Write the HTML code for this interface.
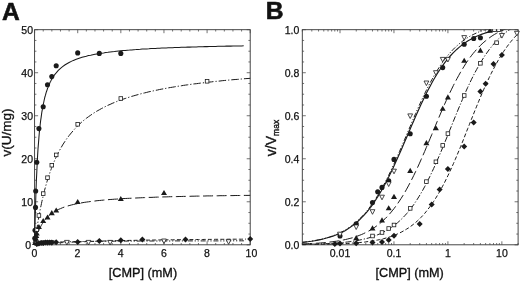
<!DOCTYPE html>
<html><head><meta charset="utf-8"><title>Figure</title>
<style>html,body{margin:0;padding:0;background:#fff}svg{display:block}</style></head>
<body>
<svg width="520" height="281" viewBox="0 0 520 281">
<rect width="520" height="281" fill="#fff"/>
<defs><clipPath id="cb"><rect x="302.3" y="29.7" width="215.8" height="215.10000000000002"/></clipPath><clipPath id="cm"><rect x="292.3" y="29.3" width="235.8" height="225.10000000000002"/></clipPath></defs>
<g>
<rect x="34.6" y="29.7" width="215.6" height="215.10000000000002" fill="none" stroke="#333" stroke-width="0.9"/>
<path d="M34.60 244.8v-3.5M34.60 29.7v3.5M43.22 244.8v-1.8M43.22 29.7v1.8M51.85 244.8v-1.8M51.85 29.7v1.8M60.47 244.8v-1.8M60.47 29.7v1.8M69.10 244.8v-1.8M69.10 29.7v1.8M77.72 244.8v-3.5M77.72 29.7v3.5M86.34 244.8v-1.8M86.34 29.7v1.8M94.97 244.8v-1.8M94.97 29.7v1.8M103.59 244.8v-1.8M103.59 29.7v1.8M112.22 244.8v-1.8M112.22 29.7v1.8M120.84 244.8v-3.5M120.84 29.7v3.5M129.46 244.8v-1.8M129.46 29.7v1.8M138.09 244.8v-1.8M138.09 29.7v1.8M146.71 244.8v-1.8M146.71 29.7v1.8M155.34 244.8v-1.8M155.34 29.7v1.8M163.96 244.8v-3.5M163.96 29.7v3.5M172.58 244.8v-1.8M172.58 29.7v1.8M181.21 244.8v-1.8M181.21 29.7v1.8M189.83 244.8v-1.8M189.83 29.7v1.8M198.46 244.8v-1.8M198.46 29.7v1.8M207.08 244.8v-3.5M207.08 29.7v3.5M215.70 244.8v-1.8M215.70 29.7v1.8M224.33 244.8v-1.8M224.33 29.7v1.8M232.95 244.8v-1.8M232.95 29.7v1.8M241.58 244.8v-1.8M241.58 29.7v1.8M250.20 244.8v-3.5M250.20 29.7v3.5M34.6 244.80h3.5M250.2 244.80h-3.5M34.6 234.05h1.8M250.2 234.05h-1.8M34.6 223.29h1.8M250.2 223.29h-1.8M34.6 212.53h1.8M250.2 212.53h-1.8M34.6 201.78h3.5M250.2 201.78h-3.5M34.6 191.03h1.8M250.2 191.03h-1.8M34.6 180.27h1.8M250.2 180.27h-1.8M34.6 169.51h1.8M250.2 169.51h-1.8M34.6 158.76h3.5M250.2 158.76h-3.5M34.6 148.00h1.8M250.2 148.00h-1.8M34.6 137.25h1.8M250.2 137.25h-1.8M34.6 126.49h1.8M250.2 126.49h-1.8M34.6 115.74h3.5M250.2 115.74h-3.5M34.6 104.98h1.8M250.2 104.98h-1.8M34.6 94.23h1.8M250.2 94.23h-1.8M34.6 83.47h1.8M250.2 83.47h-1.8M34.6 72.72h3.5M250.2 72.72h-3.5M34.6 61.96h1.8M250.2 61.96h-1.8M34.6 51.21h1.8M250.2 51.21h-1.8M34.6 40.45h1.8M250.2 40.45h-1.8M34.6 29.70h3.5M250.2 29.70h-3.5" stroke="#444" stroke-width="0.75" fill="none"/>
<path d="M34.6 244.8L35.0 224.3L35.5 207.6L35.9 193.7L36.3 182.0L36.8 171.9L37.2 163.2L37.6 155.6L38.0 148.9L38.5 142.9L38.9 137.6L39.3 132.8L39.8 128.5L40.2 124.5L40.6 120.9L41.1 117.6L41.5 114.6L41.9 111.8L42.4 109.2L42.8 106.8L43.2 104.6L43.7 102.5L44.1 100.5L44.5 98.7L44.9 97.0L45.4 95.4L45.8 93.8L46.2 92.4L46.7 91.0L47.1 89.8L47.5 88.5L48.0 87.4L48.4 86.3L48.8 85.2L49.3 84.2L49.7 83.3L50.1 82.3L50.6 81.5L51.0 80.6L51.4 79.8L51.8 79.1L52.3 78.3L52.7 77.6L53.1 76.9L53.6 76.3L54.0 75.6L54.4 75.0L54.9 74.4L55.3 73.9L55.7 73.3L56.2 72.8L58.3 70.4L60.5 68.3L62.6 66.6L64.8 65.0L66.9 63.7L69.1 62.5L71.3 61.4L73.4 60.4L75.6 59.5L77.7 58.7L79.9 58.0L82.0 57.3L84.2 56.7L86.3 56.2L88.5 55.6L90.7 55.2L92.8 54.7L95.0 54.3L97.1 53.9L99.3 53.5L101.4 53.2L103.6 52.9L105.7 52.5L107.9 52.3L110.1 52.0L112.2 51.7L114.4 51.5L116.5 51.2L118.7 51.0L120.8 50.8L123.0 50.6L125.2 50.4L127.3 50.2L129.5 50.1L131.6 49.9L133.8 49.7L135.9 49.6L138.1 49.4L140.2 49.3L142.4 49.1L144.6 49.0L146.7 48.9L148.9 48.8L151.0 48.6L153.2 48.5L155.3 48.4L157.5 48.3L159.6 48.2L161.8 48.1L164.0 48.0L166.1 47.9L168.3 47.8L170.4 47.7L172.6 47.7L174.7 47.6L176.9 47.5L179.1 47.4L181.2 47.3L183.4 47.3L185.5 47.2L187.7 47.1L189.8 47.1L192.0 47.0L194.1 46.9L196.3 46.9L198.5 46.8L200.6 46.8L202.8 46.7L204.9 46.6L207.1 46.6L209.2 46.5L211.4 46.5L213.5 46.4L215.7 46.4L217.9 46.3L220.0 46.3L222.2 46.2L224.3 46.2L226.5 46.1L228.6 46.1L230.8 46.1L233.0 46.0L235.1 46.0L237.3 45.9L239.4 45.9L241.6 45.9L243.7 45.8" fill="none" stroke="#1a1a1a" stroke-width="1.05"/>
<path d="M34.6 244.8L35.0 241.5L35.5 238.4L35.9 235.3L36.3 232.4L36.8 229.5L37.2 226.8L37.6 224.1L38.0 221.5L38.5 219.0L38.9 216.6L39.3 214.2L39.8 211.9L40.2 209.7L40.6 207.5L41.1 205.4L41.5 203.4L41.9 201.4L42.4 199.5L42.8 197.6L43.2 195.8L43.7 194.0L44.1 192.3L44.5 190.6L44.9 189.0L45.4 187.4L45.8 185.8L46.2 184.3L46.7 182.8L47.1 181.3L47.5 179.9L48.0 178.5L48.4 177.1L48.8 175.8L49.3 174.5L49.7 173.3L50.1 172.0L50.6 170.8L51.0 169.6L51.4 168.5L51.8 167.3L52.3 166.2L52.7 165.1L53.1 164.0L53.6 163.0L54.0 162.0L54.4 161.0L54.9 160.0L55.3 159.0L55.7 158.1L56.2 157.1L58.3 152.7L60.5 148.7L62.6 145.0L64.8 141.6L66.9 138.5L69.1 135.6L71.3 132.9L73.4 130.4L75.6 128.0L77.7 125.8L79.9 123.8L82.0 121.8L84.2 120.0L86.3 118.3L88.5 116.7L90.7 115.2L92.8 113.7L95.0 112.3L97.1 111.0L99.3 109.8L101.4 108.6L103.6 107.5L105.7 106.4L107.9 105.3L110.1 104.4L112.2 103.4L114.4 102.5L116.5 101.6L118.7 100.8L120.8 100.0L123.0 99.2L125.2 98.5L127.3 97.8L129.5 97.1L131.6 96.4L133.8 95.8L135.9 95.2L138.1 94.6L140.2 94.0L142.4 93.4L144.6 92.9L146.7 92.4L148.9 91.8L151.0 91.4L153.2 90.9L155.3 90.4L157.5 90.0L159.6 89.5L161.8 89.1L164.0 88.7L166.1 88.3L168.3 87.9L170.4 87.5L172.6 87.2L174.7 86.8L176.9 86.4L179.1 86.1L181.2 85.8L183.4 85.4L185.5 85.1L187.7 84.8L189.8 84.5L192.0 84.2L194.1 83.9L196.3 83.7L198.5 83.4L200.6 83.1L202.8 82.9L204.9 82.6L207.1 82.4L209.2 82.1L211.4 81.9L213.5 81.6L215.7 81.4L217.9 81.2L220.0 81.0L222.2 80.7L224.3 80.5L226.5 80.3L228.6 80.1L230.8 79.9L233.0 79.7L235.1 79.5L237.3 79.4L239.4 79.2L241.6 79.0L243.7 78.8L245.9 78.6L248.0 78.5L250.2 78.3" fill="none" stroke="#1a1a1a" stroke-width="1.0" stroke-dasharray="7.5 2 1.2 2"/>
<path d="M34.6 244.8L35.0 242.9L35.5 241.1L35.9 239.5L36.3 237.9L36.8 236.5L37.2 235.1L37.6 233.8L38.0 232.6L38.5 231.5L38.9 230.4L39.3 229.4L39.8 228.4L40.2 227.5L40.6 226.7L41.1 225.8L41.5 225.1L41.9 224.3L42.4 223.6L42.8 222.9L43.2 222.3L43.7 221.6L44.1 221.0L44.5 220.5L44.9 219.9L45.4 219.4L45.8 218.9L46.2 218.4L46.7 217.9L47.1 217.5L47.5 217.0L48.0 216.6L48.4 216.2L48.8 215.8L49.3 215.4L49.7 215.0L50.1 214.7L50.6 214.3L51.0 214.0L51.4 213.7L51.8 213.3L52.3 213.0L52.7 212.7L53.1 212.5L53.6 212.2L54.0 211.9L54.4 211.6L54.9 211.4L55.3 211.1L55.7 210.9L56.2 210.6L58.3 209.5L60.5 208.6L62.6 207.7L64.8 206.9L66.9 206.2L69.1 205.6L71.3 205.0L73.4 204.5L75.6 204.0L77.7 203.6L79.9 203.1L82.0 202.8L84.2 202.4L86.3 202.1L88.5 201.8L90.7 201.5L92.8 201.2L95.0 201.0L97.1 200.7L99.3 200.5L101.4 200.3L103.6 200.1L105.7 199.9L107.9 199.7L110.1 199.5L112.2 199.4L114.4 199.2L116.5 199.1L118.7 198.9L120.8 198.8L123.0 198.6L125.2 198.5L127.3 198.4L129.5 198.3L131.6 198.2L133.8 198.1L135.9 198.0L138.1 197.9L140.2 197.8L142.4 197.7L144.6 197.6L146.7 197.5L148.9 197.4L151.0 197.4L153.2 197.3L155.3 197.2L157.5 197.1L159.6 197.1L161.8 197.0L164.0 196.9L166.1 196.9L168.3 196.8L170.4 196.7L172.6 196.7L174.7 196.6L176.9 196.6L179.1 196.5L181.2 196.5L183.4 196.4L185.5 196.4L187.7 196.3L189.8 196.3L192.0 196.2L194.1 196.2L196.3 196.1L198.5 196.1L200.6 196.1L202.8 196.0L204.9 196.0L207.1 195.9L209.2 195.9L211.4 195.9L213.5 195.8L215.7 195.8L217.9 195.8L220.0 195.7L222.2 195.7L224.3 195.7L226.5 195.6L228.6 195.6L230.8 195.6L233.0 195.6L235.1 195.5L237.3 195.5L239.4 195.5L241.6 195.4L243.7 195.4L245.9 195.4L248.0 195.4L250.2 195.3" fill="none" stroke="#1a1a1a" stroke-width="1.0" stroke-dasharray="10 3.6"/>
<path d="M34.6 244.8L35.0 244.8L35.5 244.7L35.9 244.7L36.3 244.6L36.8 244.6L37.2 244.5L37.6 244.5L38.0 244.4L38.5 244.4L38.9 244.4L39.3 244.3L39.8 244.3L40.2 244.2L40.6 244.2L41.1 244.2L41.5 244.1L41.9 244.1L42.4 244.0L42.8 244.0L43.2 244.0L43.7 243.9L44.1 243.9L44.5 243.9L44.9 243.8L45.4 243.8L45.8 243.7L46.2 243.7L46.7 243.7L47.1 243.6L47.5 243.6L48.0 243.6L48.4 243.5L48.8 243.5L49.3 243.5L49.7 243.4L50.1 243.4L50.6 243.4L51.0 243.4L51.4 243.3L51.8 243.3L52.3 243.3L52.7 243.2L53.1 243.2L53.6 243.2L54.0 243.1L54.4 243.1L54.9 243.1L55.3 243.1L55.7 243.0L56.2 243.0L58.3 242.9L60.5 242.7L62.6 242.6L64.8 242.5L66.9 242.4L69.1 242.3L71.3 242.2L73.4 242.1L75.6 242.0L77.7 241.9L79.9 241.8L82.0 241.7L84.2 241.7L86.3 241.6L88.5 241.5L90.7 241.4L92.8 241.4L95.0 241.3L97.1 241.2L99.3 241.2L101.4 241.1L103.6 241.0L105.7 241.0L107.9 240.9L110.1 240.9L112.2 240.8L114.4 240.8L116.5 240.7L118.7 240.7L120.8 240.6L123.0 240.6L125.2 240.5L127.3 240.5L129.5 240.4L131.6 240.4L133.8 240.4L135.9 240.3L138.1 240.3L140.2 240.2L142.4 240.2L144.6 240.2L146.7 240.1L148.9 240.1L151.0 240.1L153.2 240.0L155.3 240.0L157.5 240.0L159.6 239.9L161.8 239.9L164.0 239.9L166.1 239.9L168.3 239.8L170.4 239.8L172.6 239.8L174.7 239.8L176.9 239.7L179.1 239.7L181.2 239.7L183.4 239.7L185.5 239.6L187.7 239.6L189.8 239.6L192.0 239.6L194.1 239.5L196.3 239.5L198.5 239.5L200.6 239.5L202.8 239.5L204.9 239.4L207.1 239.4L209.2 239.4L211.4 239.4L213.5 239.4L215.7 239.3L217.9 239.3L220.0 239.3L222.2 239.3L224.3 239.3L226.5 239.3L228.6 239.2L230.8 239.2L233.0 239.2L235.1 239.2L237.3 239.2L239.4 239.2L241.6 239.2L243.7 239.1L245.9 239.1" fill="none" stroke="#1a1a1a" stroke-width="1.0" stroke-dasharray="4 2.2"/>
<path d="M34.6 244.8L35.0 244.7L35.5 244.5L35.9 244.4L36.3 244.3L36.8 244.2L37.2 244.1L37.6 244.0L38.0 243.9L38.5 243.8L38.9 243.7L39.3 243.7L39.8 243.6L40.2 243.5L40.6 243.5L41.1 243.4L41.5 243.3L41.9 243.3L42.4 243.2L42.8 243.2L43.2 243.1L43.7 243.1L44.1 243.0L44.5 243.0L44.9 242.9L45.4 242.9L45.8 242.8L46.2 242.8L46.7 242.8L47.1 242.7L47.5 242.7L48.0 242.7L48.4 242.6L48.8 242.6L49.3 242.6L49.7 242.5L50.1 242.5L50.6 242.5L51.0 242.4L51.4 242.4L51.8 242.4L52.3 242.4L52.7 242.3L53.1 242.3L53.6 242.3L54.0 242.3L54.4 242.2L54.9 242.2L55.3 242.2L55.7 242.2L56.2 242.2L58.3 242.1L60.5 242.0L62.6 241.9L64.8 241.8L66.9 241.8L69.1 241.7L71.3 241.7L73.4 241.6L75.6 241.6L77.7 241.6L79.9 241.5L82.0 241.5L84.2 241.5L86.3 241.4L88.5 241.4L90.7 241.4L92.8 241.4L95.0 241.3L97.1 241.3L99.3 241.3L101.4 241.3L103.6 241.2L105.7 241.2L107.9 241.2L110.1 241.2L112.2 241.2L114.4 241.2L116.5 241.2L118.7 241.1L120.8 241.1L123.0 241.1L125.2 241.1L127.3 241.1L129.5 241.1L131.6 241.1L133.8 241.1L135.9 241.1L138.1 241.1L140.2 241.0L142.4 241.0L144.6 241.0L146.7 241.0L148.9 241.0L151.0 241.0L153.2 241.0L155.3 241.0L157.5 241.0L159.6 241.0L161.8 241.0L164.0 241.0L166.1 241.0L168.3 241.0L170.4 241.0L172.6 240.9L174.7 240.9L176.9 240.9L179.1 240.9L181.2 240.9L183.4 240.9L185.5 240.9L187.7 240.9L189.8 240.9L192.0 240.9L194.1 240.9L196.3 240.9L198.5 240.9L200.6 240.9L202.8 240.9L204.9 240.9L207.1 240.9L209.2 240.9L211.4 240.9L213.5 240.9L215.7 240.9L217.9 240.9L220.0 240.9L222.2 240.9L224.3 240.9L226.5 240.9L228.6 240.8L230.8 240.8L233.0 240.8L235.1 240.8L237.3 240.8L239.4 240.8L241.6 240.8L243.7 240.8L245.9 240.8" fill="none" stroke="#1a1a1a" stroke-width="1.0" stroke-dasharray="5 1.8 1.2 1.8 1.2 1.8"/>
<circle cx="34.8" cy="238.3" r="2.55" fill="#1a1a1a"/>
<circle cx="35.0" cy="230.2" r="2.55" fill="#1a1a1a"/>
<circle cx="35.5" cy="207.4" r="2.55" fill="#1a1a1a"/>
<circle cx="35.7" cy="191.0" r="2.55" fill="#1a1a1a"/>
<circle cx="36.8" cy="162.2" r="2.55" fill="#1a1a1a"/>
<circle cx="38.9" cy="128.6" r="2.55" fill="#1a1a1a"/>
<circle cx="43.2" cy="106.7" r="2.55" fill="#1a1a1a"/>
<circle cx="47.5" cy="84.8" r="2.55" fill="#1a1a1a"/>
<circle cx="51.8" cy="76.6" r="2.55" fill="#1a1a1a"/>
<circle cx="56.2" cy="65.8" r="2.55" fill="#1a1a1a"/>
<circle cx="77.7" cy="52.9" r="2.55" fill="#1a1a1a"/>
<circle cx="99.3" cy="53.4" r="2.55" fill="#1a1a1a"/>
<circle cx="120.8" cy="53.4" r="2.55" fill="#1a1a1a"/>
<rect x="35.0" y="227.9" width="3.6" height="3.6" fill="#fff" stroke="#1a1a1a" stroke-width="0.8"/>
<rect x="37.1" y="213.7" width="3.6" height="3.6" fill="#fff" stroke="#1a1a1a" stroke-width="0.8"/>
<rect x="41.4" y="191.8" width="3.6" height="3.6" fill="#fff" stroke="#1a1a1a" stroke-width="0.8"/>
<rect x="45.7" y="175.9" width="3.6" height="3.6" fill="#fff" stroke="#1a1a1a" stroke-width="0.8"/>
<rect x="50.0" y="163.4" width="3.6" height="3.6" fill="#fff" stroke="#1a1a1a" stroke-width="0.8"/>
<rect x="54.4" y="153.1" width="3.6" height="3.6" fill="#fff" stroke="#1a1a1a" stroke-width="0.8"/>
<rect x="75.9" y="122.5" width="3.6" height="3.6" fill="#fff" stroke="#1a1a1a" stroke-width="0.8"/>
<rect x="119.0" y="96.7" width="3.6" height="3.6" fill="#fff" stroke="#1a1a1a" stroke-width="0.8"/>
<rect x="205.3" y="79.5" width="3.6" height="3.6" fill="#fff" stroke="#1a1a1a" stroke-width="0.8"/>
<path d="M35.0 239.9L38.0 245.0L32.0 245.0Z" fill="#1a1a1a"/>
<path d="M35.5 237.7L38.5 242.8L32.5 242.8Z" fill="#1a1a1a"/>
<path d="M35.9 235.6L38.9 240.7L32.9 240.7Z" fill="#1a1a1a"/>
<path d="M36.3 233.0L39.3 238.1L33.3 238.1Z" fill="#1a1a1a"/>
<path d="M36.8 230.4L39.8 235.5L33.8 235.5Z" fill="#1a1a1a"/>
<path d="M38.9 224.0L41.9 229.1L35.9 229.1Z" fill="#1a1a1a"/>
<path d="M43.2 217.9L46.2 223.0L40.2 223.0Z" fill="#1a1a1a"/>
<path d="M47.5 214.4L50.5 219.5L44.5 219.5Z" fill="#1a1a1a"/>
<path d="M51.8 210.1L54.8 215.2L48.8 215.2Z" fill="#1a1a1a"/>
<path d="M56.2 207.5L59.2 212.6L53.2 212.6Z" fill="#1a1a1a"/>
<path d="M77.7 199.0L80.7 204.1L74.7 204.1Z" fill="#1a1a1a"/>
<path d="M120.8 196.0L123.8 201.1L117.8 201.1Z" fill="#1a1a1a"/>
<path d="M164.0 190.0L167.0 195.1L161.0 195.1Z" fill="#1a1a1a"/>
<path d="M36.8 246.3L39.2 241.7L34.4 241.7Z" fill="#fff" stroke="#1a1a1a" stroke-width="0.8"/>
<path d="M38.9 245.9L41.3 241.3L36.5 241.3Z" fill="#fff" stroke="#1a1a1a" stroke-width="0.8"/>
<path d="M43.2 245.4L45.6 240.8L40.8 240.8Z" fill="#fff" stroke="#1a1a1a" stroke-width="0.8"/>
<path d="M47.5 245.2L49.9 240.6L45.1 240.6Z" fill="#fff" stroke="#1a1a1a" stroke-width="0.8"/>
<path d="M51.8 245.2L54.2 240.6L49.4 240.6Z" fill="#fff" stroke="#1a1a1a" stroke-width="0.8"/>
<path d="M66.9 245.0L69.3 240.4L64.5 240.4Z" fill="#fff" stroke="#1a1a1a" stroke-width="0.8"/>
<path d="M88.5 245.0L90.9 240.4L86.1 240.4Z" fill="#fff" stroke="#1a1a1a" stroke-width="0.8"/>
<path d="M110.1 245.0L112.5 240.4L107.7 240.4Z" fill="#fff" stroke="#1a1a1a" stroke-width="0.8"/>
<path d="M164.0 243.6L166.4 239.0L161.6 239.0Z" fill="#fff" stroke="#1a1a1a" stroke-width="0.8"/>
<path d="M228.6 244.3L231.0 239.7L226.2 239.7Z" fill="#fff" stroke="#1a1a1a" stroke-width="0.8"/>
<path d="M36.8 240.9L39.8 243.9L36.8 246.9L33.8 243.9Z" fill="#1a1a1a"/>
<path d="M38.9 240.5L41.9 243.5L38.9 246.5L35.9 243.5Z" fill="#1a1a1a"/>
<path d="M41.1 240.1L44.1 243.1L41.1 246.1L38.1 243.1Z" fill="#1a1a1a"/>
<path d="M43.2 239.9L46.2 242.9L43.2 245.9L40.2 242.9Z" fill="#1a1a1a"/>
<path d="M45.4 239.6L48.4 242.6L45.4 245.6L42.4 242.6Z" fill="#1a1a1a"/>
<path d="M47.5 239.6L50.5 242.6L47.5 245.6L44.5 242.6Z" fill="#1a1a1a"/>
<path d="M49.7 239.4L52.7 242.4L49.7 245.4L46.7 242.4Z" fill="#1a1a1a"/>
<path d="M51.8 239.4L54.8 242.4L51.8 245.4L48.8 242.4Z" fill="#1a1a1a"/>
<path d="M56.2 239.2L59.2 242.2L56.2 245.2L53.2 242.2Z" fill="#1a1a1a"/>
<path d="M77.7 239.0L80.7 242.0L77.7 245.0L74.7 242.0Z" fill="#1a1a1a"/>
<path d="M99.3 238.1L102.3 241.1L99.3 244.1L96.3 241.1Z" fill="#1a1a1a"/>
<path d="M120.8 237.3L123.8 240.3L120.8 243.3L117.8 240.3Z" fill="#1a1a1a"/>
<path d="M142.4 236.5L145.4 239.5L142.4 242.5L139.4 239.5Z" fill="#1a1a1a"/>
<path d="M185.5 236.5L188.5 239.5L185.5 242.5L182.5 239.5Z" fill="#1a1a1a"/>
<path d="M250.2 236.1L253.2 239.1L250.2 242.1L247.2 239.1Z" fill="#1a1a1a"/>
</g>
<g>
<rect x="302.3" y="29.7" width="215.8" height="215.10000000000002" fill="none" stroke="#333" stroke-width="0.9"/>
<path d="M302.30 244.8v-1.8M302.30 29.7v1.8M311.80 244.8v-1.8M311.80 29.7v1.8M318.54 244.8v-1.8M318.54 29.7v1.8M323.77 244.8v-1.8M323.77 29.7v1.8M328.04 244.8v-1.8M328.04 29.7v1.8M331.65 244.8v-1.8M331.65 29.7v1.8M334.78 244.8v-1.8M334.78 29.7v1.8M337.54 244.8v-1.8M337.54 29.7v1.8M340.01 244.8v-3.5M340.01 29.7v3.5M356.25 244.8v-1.8M356.25 29.7v1.8M365.75 244.8v-1.8M365.75 29.7v1.8M372.49 244.8v-1.8M372.49 29.7v1.8M377.72 244.8v-1.8M377.72 29.7v1.8M381.99 244.8v-1.8M381.99 29.7v1.8M385.60 244.8v-1.8M385.60 29.7v1.8M388.73 244.8v-1.8M388.73 29.7v1.8M391.49 244.8v-1.8M391.49 29.7v1.8M393.96 244.8v-3.5M393.96 29.7v3.5M410.20 244.8v-1.8M410.20 29.7v1.8M419.70 244.8v-1.8M419.70 29.7v1.8M426.44 244.8v-1.8M426.44 29.7v1.8M431.67 244.8v-1.8M431.67 29.7v1.8M435.94 244.8v-1.8M435.94 29.7v1.8M439.55 244.8v-1.8M439.55 29.7v1.8M442.68 244.8v-1.8M442.68 29.7v1.8M445.44 244.8v-1.8M445.44 29.7v1.8M447.91 244.8v-3.5M447.91 29.7v3.5M464.15 244.8v-1.8M464.15 29.7v1.8M473.65 244.8v-1.8M473.65 29.7v1.8M480.39 244.8v-1.8M480.39 29.7v1.8M485.62 244.8v-1.8M485.62 29.7v1.8M489.89 244.8v-1.8M489.89 29.7v1.8M493.50 244.8v-1.8M493.50 29.7v1.8M496.63 244.8v-1.8M496.63 29.7v1.8M499.39 244.8v-1.8M499.39 29.7v1.8M501.86 244.8v-3.5M501.86 29.7v3.5M518.10 244.8v-1.8M518.10 29.7v1.8M302.3 244.80h3.5M518.1 244.80h-3.5M302.3 234.05h1.8M518.1 234.05h-1.8M302.3 223.29h1.8M518.1 223.29h-1.8M302.3 212.53h1.8M518.1 212.53h-1.8M302.3 201.78h3.5M518.1 201.78h-3.5M302.3 191.03h1.8M518.1 191.03h-1.8M302.3 180.27h1.8M518.1 180.27h-1.8M302.3 169.51h1.8M518.1 169.51h-1.8M302.3 158.76h3.5M518.1 158.76h-3.5M302.3 148.00h1.8M518.1 148.00h-1.8M302.3 137.25h1.8M518.1 137.25h-1.8M302.3 126.49h1.8M518.1 126.49h-1.8M302.3 115.74h3.5M518.1 115.74h-3.5M302.3 104.98h1.8M518.1 104.98h-1.8M302.3 94.23h1.8M518.1 94.23h-1.8M302.3 83.47h1.8M518.1 83.47h-1.8M302.3 72.72h3.5M518.1 72.72h-3.5M302.3 61.96h1.8M518.1 61.96h-1.8M302.3 51.21h1.8M518.1 51.21h-1.8M302.3 40.45h1.8M518.1 40.45h-1.8M302.3 29.70h3.5M518.1 29.70h-3.5" stroke="#444" stroke-width="0.75" fill="none"/>
<path clip-path="url(#cb)" d="M302.3 242.4L304.1 242.2L305.9 242.0L307.7 241.8L309.5 241.5L311.3 241.3L313.1 241.0L314.9 240.7L316.7 240.4L318.5 240.0L320.3 239.6L322.1 239.2L323.9 238.8L325.7 238.3L327.5 237.8L329.3 237.3L331.1 236.7L332.9 236.1L334.7 235.5L336.5 234.7L338.3 234.0L340.1 233.2L341.9 232.3L343.7 231.4L345.5 230.4L347.3 229.3L349.1 228.1L350.9 226.9L352.7 225.6L354.5 224.2L356.2 222.7L358.0 221.2L359.8 219.5L361.6 217.7L363.4 215.9L365.2 213.9L367.0 211.8L368.8 209.6L370.6 207.3L372.4 204.8L374.2 202.2L376.0 199.5L377.8 196.7L379.6 193.8L381.4 190.7L383.2 187.5L385.0 184.2L386.8 180.8L388.6 177.3L390.4 173.6L392.2 169.9L394.0 166.0L395.8 162.1L397.6 158.1L399.4 154.1L401.2 150.0L403.0 145.8L404.8 141.6L406.6 137.4L408.4 133.2L410.2 129.0L412.0 124.8L413.8 120.7L415.6 116.6L417.4 112.5L419.2 108.5L421.0 104.6L422.8 100.7L424.6 97.0L426.4 93.3L428.2 89.8L430.0 86.4L431.8 83.0L433.6 79.8L435.4 76.8L437.2 73.8L439.0 71.0L440.8 68.3L442.6 65.7L444.4 63.2L446.2 60.9L448.0 58.6L449.8 56.5L451.6 54.5L453.4 52.7L455.2 50.9L457.0 49.2L458.8 47.6L460.6 46.1L462.4 44.7L464.2 43.4L465.9 42.2L467.7 41.0L469.5 40.0L471.3 39.0L473.1 38.0L474.9 37.1L476.7 36.3L478.5 35.5L480.3 34.8L482.1 34.1L483.9 33.5L485.7 32.9L487.5 32.4L489.3 31.9L491.1 31.4L492.9 31.0L494.7 30.6L496.5 30.2L498.3 29.9L500.1 29.5L501.9 29.2L503.7 29.0L505.5 28.7L507.3 28.5L509.1 28.2L510.9 28.0L512.7 27.8L514.5 27.7L516.3 27.5L518.1 27.3" fill="none" stroke="#1a1a1a" stroke-width="1.15"/>
<path clip-path="url(#cb)" d="M302.3 242.3L304.1 242.1L305.9 241.9L307.7 241.7L309.5 241.4L311.3 241.1L313.1 240.9L314.9 240.5L316.7 240.2L318.5 239.9L320.3 239.5L322.1 239.1L323.9 238.6L325.7 238.1L327.5 237.6L329.3 237.1L331.1 236.5L332.9 235.8L334.7 235.2L336.5 234.4L338.3 233.6L340.1 232.8L341.9 231.9L343.7 230.9L345.5 229.9L347.3 228.8L349.1 227.6L350.9 226.4L352.7 225.0L354.5 223.6L356.2 222.1L358.0 220.4L359.8 218.7L361.6 216.9L363.4 215.0L365.2 212.9L367.0 210.8L368.8 208.5L370.6 206.1L372.4 203.6L374.2 201.0L376.0 198.2L377.8 195.3L379.6 192.3L381.4 189.2L383.2 185.9L385.0 182.5L386.8 179.0L388.6 175.4L390.4 171.7L392.2 167.8L394.0 163.9L395.8 159.9L397.6 155.9L399.4 151.7L401.2 147.6L403.0 143.3L404.8 139.1L406.6 134.8L408.4 130.5L410.2 126.3L412.0 122.0L413.8 117.8L415.6 113.6L417.4 109.5L419.2 105.5L421.0 101.5L422.8 97.6L424.6 93.8L426.4 90.2L428.2 86.6L430.0 83.1L431.8 79.8L433.6 76.5L435.4 73.4L437.2 70.5L439.0 67.6L440.8 64.9L442.6 62.3L444.4 59.8L446.2 57.5L448.0 55.2L449.8 53.1L451.6 51.1L453.4 49.2L455.2 47.4L457.0 45.8L458.8 44.2L460.6 42.7L462.4 41.3L464.2 40.0L465.9 38.7L467.7 37.6L469.5 36.5L471.3 35.5L473.1 34.6L474.9 33.7L476.7 32.9L478.5 32.1L480.3 31.4L482.1 30.7L483.9 30.1L485.7 29.5L487.5 29.0L489.3 28.5L491.1 28.0L492.9 27.6L494.7 27.2L496.5 26.8L498.3 26.4L500.1 26.1L501.9 25.8L503.7 25.5L505.5 25.3L507.3 25.0L509.1 24.8L510.9 24.6L512.7 24.4L514.5 24.2L516.3 24.1L518.1 23.9" fill="none" stroke="#1a1a1a" stroke-width="1.0" stroke-dasharray="5 1.8 1.2 1.8 1.2 1.8"/>
<path clip-path="url(#cb)" d="M302.3 243.9L304.1 243.9L305.9 243.8L307.7 243.7L309.5 243.6L311.3 243.5L313.1 243.4L314.9 243.3L316.7 243.2L318.5 243.1L320.3 243.0L322.1 242.8L323.9 242.7L325.7 242.5L327.5 242.3L329.3 242.1L331.1 241.9L332.9 241.7L334.7 241.4L336.5 241.2L338.3 240.9L340.1 240.6L341.9 240.2L343.7 239.9L345.5 239.5L347.3 239.1L349.1 238.6L350.9 238.2L352.7 237.7L354.5 237.1L356.2 236.5L358.0 235.9L359.8 235.2L361.6 234.5L363.4 233.7L365.2 232.8L367.0 231.9L368.8 231.0L370.6 229.9L372.4 228.8L374.2 227.7L376.0 226.4L377.8 225.1L379.6 223.7L381.4 222.1L383.2 220.5L385.0 218.8L386.8 217.0L388.6 215.1L390.4 213.0L392.2 210.9L394.0 208.6L395.8 206.2L397.6 203.7L399.4 201.0L401.2 198.3L403.0 195.4L404.8 192.4L406.6 189.2L408.4 185.9L410.2 182.5L412.0 179.0L413.8 175.4L415.6 171.6L417.4 167.8L419.2 163.9L421.0 159.8L422.8 155.7L424.6 151.6L426.4 147.3L428.2 143.1L430.0 138.8L431.8 134.5L433.6 130.1L435.4 125.8L437.2 121.5L439.0 117.2L440.8 113.0L442.6 108.8L444.4 104.7L446.2 100.7L448.0 96.8L449.8 92.9L451.6 89.2L453.4 85.5L455.2 82.0L457.0 78.6L458.8 75.3L460.6 72.1L462.4 69.1L464.2 66.2L465.9 63.4L467.7 60.7L469.5 58.2L471.3 55.8L473.1 53.5L474.9 51.4L476.7 49.3L478.5 47.4L480.3 45.5L482.1 43.8L483.9 42.2L485.7 40.7L487.5 39.2L489.3 37.9L491.1 36.6L492.9 35.4L494.7 34.3L496.5 33.3L498.3 32.3L500.1 31.4L501.9 30.6L503.7 29.8L505.5 29.0L507.3 28.4L509.1 27.7L510.9 27.1L512.7 26.6L514.5 26.1L516.3 25.6L518.1 25.1" fill="none" stroke="#1a1a1a" stroke-width="1.0" stroke-dasharray="10 3.6"/>
<path clip-path="url(#cb)" d="M302.3 244.4L304.1 244.3L305.9 244.3L307.7 244.3L309.5 244.2L311.3 244.2L313.1 244.1L314.9 244.1L316.7 244.0L318.5 244.0L320.3 243.9L322.1 243.8L323.9 243.8L325.7 243.7L327.5 243.6L329.3 243.5L331.1 243.4L332.9 243.3L334.7 243.1L336.5 243.0L338.3 242.9L340.1 242.7L341.9 242.6L343.7 242.4L345.5 242.2L347.3 242.0L349.1 241.8L350.9 241.5L352.7 241.3L354.5 241.0L356.2 240.7L358.0 240.4L359.8 240.0L361.6 239.6L363.4 239.2L365.2 238.8L367.0 238.4L368.8 237.9L370.6 237.3L372.4 236.7L374.2 236.1L376.0 235.5L377.8 234.7L379.6 234.0L381.4 233.2L383.2 232.3L385.0 231.3L386.8 230.3L388.6 229.3L390.4 228.1L392.2 226.9L394.0 225.6L395.8 224.2L397.6 222.7L399.4 221.1L401.2 219.4L403.0 217.6L404.8 215.7L406.6 213.7L408.4 211.6L410.2 209.3L412.0 207.0L413.8 204.5L415.6 201.8L417.4 199.1L419.2 196.2L421.0 193.2L422.8 190.1L424.6 186.8L426.4 183.4L428.2 179.8L430.0 176.2L431.8 172.4L433.6 168.5L435.4 164.6L437.2 160.5L439.0 156.3L440.8 152.1L442.6 147.8L444.4 143.4L446.2 139.0L448.0 134.6L449.8 130.1L451.6 125.7L453.4 121.2L455.2 116.8L457.0 112.4L458.8 108.0L460.6 103.8L462.4 99.5L464.2 95.4L465.9 91.4L467.7 87.4L469.5 83.6L471.3 79.8L473.1 76.2L474.9 72.7L476.7 69.4L478.5 66.1L480.3 63.0L482.1 60.1L483.9 57.2L485.7 54.5L487.5 52.0L489.3 49.5L491.1 47.2L492.9 45.0L494.7 42.9L496.5 40.9L498.3 39.1L500.1 37.3L501.9 35.7L503.7 34.1L505.5 32.6L507.3 31.3L509.1 30.0L510.9 28.8L512.7 27.7L514.5 26.6L516.3 25.6L518.1 24.7" fill="none" stroke="#1a1a1a" stroke-width="1.0" stroke-dasharray="6 1.8 1.2 1.8"/>
<path clip-path="url(#cb)" d="M302.3 244.6L304.1 244.6L305.9 244.6L307.7 244.6L309.5 244.5L311.3 244.5L313.1 244.5L314.9 244.5L316.7 244.4L318.5 244.4L320.3 244.4L322.1 244.3L323.9 244.3L325.7 244.3L327.5 244.2L329.3 244.2L331.1 244.1L332.9 244.1L334.7 244.0L336.5 244.0L338.3 243.9L340.1 243.8L341.9 243.7L343.7 243.7L345.5 243.6L347.3 243.5L349.1 243.4L350.9 243.3L352.7 243.1L354.5 243.0L356.2 242.9L358.0 242.7L359.8 242.5L361.6 242.4L363.4 242.2L365.2 242.0L367.0 241.7L368.8 241.5L370.6 241.2L372.4 241.0L374.2 240.7L376.0 240.3L377.8 240.0L379.6 239.6L381.4 239.2L383.2 238.8L385.0 238.3L386.8 237.8L388.6 237.3L390.4 236.7L392.2 236.1L394.0 235.4L395.8 234.7L397.6 233.9L399.4 233.1L401.2 232.2L403.0 231.2L404.8 230.2L406.6 229.1L408.4 228.0L410.2 226.7L412.0 225.4L413.8 224.0L415.6 222.5L417.4 220.9L419.2 219.2L421.0 217.4L422.8 215.5L424.6 213.5L426.4 211.3L428.2 209.0L430.0 206.6L431.8 204.1L433.6 201.5L435.4 198.7L437.2 195.8L439.0 192.7L440.8 189.5L442.6 186.2L444.4 182.8L446.2 179.2L448.0 175.5L449.8 171.7L451.6 167.7L453.4 163.7L455.2 159.6L457.0 155.3L458.8 151.0L460.6 146.7L462.4 142.2L464.2 137.7L465.9 133.2L467.7 128.7L469.5 124.2L471.3 119.6L473.1 115.1L474.9 110.6L476.7 106.2L478.5 101.8L480.3 97.5L482.1 93.3L483.9 89.1L485.7 85.1L487.5 81.2L489.3 77.4L491.1 73.7L492.9 70.1L494.7 66.7L496.5 63.3L498.3 60.2L500.1 57.1L501.9 54.2L503.7 51.4L505.5 48.8L507.3 46.3L509.1 43.9L510.9 41.6L512.7 39.5L514.5 37.4L516.3 35.5L518.1 33.7" fill="none" stroke="#1a1a1a" stroke-width="1.0" stroke-dasharray="4 2.2"/>
<g clip-path="url(#cm)">
<circle cx="340.0" cy="236.0" r="2.55" fill="#1a1a1a"/>
<circle cx="356.2" cy="223.7" r="2.55" fill="#1a1a1a"/>
<circle cx="372.5" cy="202.6" r="2.55" fill="#1a1a1a"/>
<circle cx="377.7" cy="191.7" r="2.55" fill="#1a1a1a"/>
<circle cx="382.0" cy="187.4" r="2.55" fill="#1a1a1a"/>
<circle cx="388.7" cy="180.7" r="2.55" fill="#1a1a1a"/>
<circle cx="394.0" cy="159.4" r="2.55" fill="#1a1a1a"/>
<circle cx="410.2" cy="133.8" r="2.55" fill="#1a1a1a"/>
<circle cx="426.4" cy="96.2" r="2.55" fill="#1a1a1a"/>
<circle cx="442.7" cy="67.6" r="2.55" fill="#1a1a1a"/>
<circle cx="464.2" cy="44.3" r="2.55" fill="#1a1a1a"/>
<circle cx="473.7" cy="38.5" r="2.55" fill="#1a1a1a"/>
<circle cx="480.4" cy="37.7" r="2.55" fill="#1a1a1a"/>
<rect x="370.7" y="234.2" width="3.6" height="3.6" fill="#fff" stroke="#1a1a1a" stroke-width="0.8"/>
<rect x="380.2" y="230.7" width="3.6" height="3.6" fill="#fff" stroke="#1a1a1a" stroke-width="0.8"/>
<rect x="386.9" y="226.7" width="3.6" height="3.6" fill="#fff" stroke="#1a1a1a" stroke-width="0.8"/>
<rect x="392.2" y="223.2" width="3.6" height="3.6" fill="#fff" stroke="#1a1a1a" stroke-width="0.8"/>
<rect x="408.4" y="206.6" width="3.6" height="3.6" fill="#fff" stroke="#1a1a1a" stroke-width="0.8"/>
<rect x="424.6" y="179.8" width="3.6" height="3.6" fill="#fff" stroke="#1a1a1a" stroke-width="0.8"/>
<rect x="434.1" y="160.0" width="3.6" height="3.6" fill="#fff" stroke="#1a1a1a" stroke-width="0.8"/>
<rect x="440.9" y="143.6" width="3.6" height="3.6" fill="#fff" stroke="#1a1a1a" stroke-width="0.8"/>
<rect x="446.1" y="131.8" width="3.6" height="3.6" fill="#fff" stroke="#1a1a1a" stroke-width="0.8"/>
<rect x="462.4" y="93.7" width="3.6" height="3.6" fill="#fff" stroke="#1a1a1a" stroke-width="0.8"/>
<rect x="478.6" y="61.5" width="3.6" height="3.6" fill="#fff" stroke="#1a1a1a" stroke-width="0.8"/>
<rect x="494.8" y="40.9" width="3.6" height="3.6" fill="#fff" stroke="#1a1a1a" stroke-width="0.8"/>
<rect x="492.7" y="27.9" width="3.6" height="3.6" fill="#fff" stroke="#1a1a1a" stroke-width="0.8"/>
<rect x="496.8" y="27.9" width="3.6" height="3.6" fill="#fff" stroke="#1a1a1a" stroke-width="0.8"/>
<path d="M356.2 235.1L359.2 240.2L353.2 240.2Z" fill="#1a1a1a"/>
<path d="M372.5 225.3L375.5 230.4L369.5 230.4Z" fill="#1a1a1a"/>
<path d="M382.0 217.3L385.0 222.4L379.0 222.4Z" fill="#1a1a1a"/>
<path d="M388.7 205.2L391.7 210.3L385.7 210.3Z" fill="#1a1a1a"/>
<path d="M394.0 193.8L397.0 198.9L391.0 198.9Z" fill="#1a1a1a"/>
<path d="M410.2 167.8L413.2 172.9L407.2 172.9Z" fill="#1a1a1a"/>
<path d="M426.4 140.1L429.4 145.2L423.4 145.2Z" fill="#1a1a1a"/>
<path d="M435.9 125.2L438.9 130.3L432.9 130.3Z" fill="#1a1a1a"/>
<path d="M442.7 105.7L445.7 110.8L439.7 110.8Z" fill="#1a1a1a"/>
<path d="M447.9 94.3L450.9 99.4L444.9 99.4Z" fill="#1a1a1a"/>
<path d="M464.2 57.7L467.2 62.8L461.2 62.8Z" fill="#1a1a1a"/>
<path d="M480.4 47.6L483.4 52.7L477.4 52.7Z" fill="#1a1a1a"/>
<path d="M489.9 27.6L492.9 32.7L486.9 32.7Z" fill="#1a1a1a"/>
<path d="M340.0 236.8L342.4 232.2L337.6 232.2Z" fill="#fff" stroke="#1a1a1a" stroke-width="0.8"/>
<path d="M356.2 229.5L358.6 224.9L353.9 224.9Z" fill="#fff" stroke="#1a1a1a" stroke-width="0.8"/>
<path d="M372.5 214.3L374.9 209.7L370.1 209.7Z" fill="#fff" stroke="#1a1a1a" stroke-width="0.8"/>
<path d="M382.0 199.8L384.4 195.2L379.6 195.2Z" fill="#fff" stroke="#1a1a1a" stroke-width="0.8"/>
<path d="M388.7 186.5L391.1 181.9L386.3 181.9Z" fill="#fff" stroke="#1a1a1a" stroke-width="0.8"/>
<path d="M394.0 173.8L396.4 169.2L391.6 169.2Z" fill="#fff" stroke="#1a1a1a" stroke-width="0.8"/>
<path d="M410.2 118.5L412.6 113.9L407.8 113.9Z" fill="#fff" stroke="#1a1a1a" stroke-width="0.8"/>
<path d="M426.4 85.6L428.8 81.0L424.0 81.0Z" fill="#fff" stroke="#1a1a1a" stroke-width="0.8"/>
<path d="M435.9 75.3L438.3 70.7L433.5 70.7Z" fill="#fff" stroke="#1a1a1a" stroke-width="0.8"/>
<path d="M442.7 62.0L445.1 57.4L440.3 57.4Z" fill="#fff" stroke="#1a1a1a" stroke-width="0.8"/>
<path d="M447.9 62.0L450.3 57.4L445.5 57.4Z" fill="#fff" stroke="#1a1a1a" stroke-width="0.8"/>
<path d="M464.2 40.2L466.6 35.6L461.8 35.6Z" fill="#fff" stroke="#1a1a1a" stroke-width="0.8"/>
<path d="M501.9 38.1L504.3 33.5L499.5 33.5Z" fill="#fff" stroke="#1a1a1a" stroke-width="0.8"/>
<path d="M516.9 35.9L519.3 31.3L514.5 31.3Z" fill="#fff" stroke="#1a1a1a" stroke-width="0.8"/>
<path d="M334.8 240.9L337.8 243.9L334.8 246.9L331.8 243.9Z" fill="#1a1a1a"/>
<path d="M340.0 240.5L343.0 243.5L340.0 246.5L337.0 243.5Z" fill="#1a1a1a"/>
<path d="M356.2 240.3L359.2 243.3L356.2 246.3L353.2 243.3Z" fill="#1a1a1a"/>
<path d="M372.5 239.6L375.5 242.6L372.5 245.6L369.5 242.6Z" fill="#1a1a1a"/>
<path d="M382.0 239.0L385.0 242.0L382.0 245.0L379.0 242.0Z" fill="#1a1a1a"/>
<path d="M388.7 237.1L391.7 240.1L388.7 243.1L385.7 240.1Z" fill="#1a1a1a"/>
<path d="M394.0 232.8L397.0 235.8L394.0 238.8L391.0 235.8Z" fill="#1a1a1a"/>
<path d="M419.7 220.9L422.7 223.9L419.7 226.9L416.7 223.9Z" fill="#1a1a1a"/>
<path d="M431.7 201.6L434.7 204.6L431.7 207.6L428.7 204.6Z" fill="#1a1a1a"/>
<path d="M439.6 186.5L442.6 189.5L439.6 192.5L436.6 189.5Z" fill="#1a1a1a"/>
<path d="M447.9 166.1L450.9 169.1L447.9 172.1L444.9 169.1Z" fill="#1a1a1a"/>
<path d="M464.2 143.5L467.2 146.5L464.2 149.5L461.2 146.5Z" fill="#1a1a1a"/>
<path d="M473.7 119.6L476.7 122.6L473.7 125.6L470.7 122.6Z" fill="#1a1a1a"/>
<path d="M480.4 88.6L483.4 91.6L480.4 94.6L477.4 91.6Z" fill="#1a1a1a"/>
<path d="M485.6 80.7L488.6 83.7L485.6 86.7L482.6 83.7Z" fill="#1a1a1a"/>
<path d="M493.5 61.1L496.5 64.1L493.5 67.1L490.5 64.1Z" fill="#1a1a1a"/>
<path d="M501.9 51.9L504.9 54.9L501.9 57.9L498.9 54.9Z" fill="#1a1a1a"/>
</g>
</g>
<g font-family="Liberation Sans, Arial, Helvetica, sans-serif" fill="#111" stroke="#111">
<g font-size="24.6" font-weight="bold" stroke-width="0.6" stroke-linejoin="round"><text x="1.9" y="19.5">A</text><text x="265.7" y="19.3">B</text></g>
<g font-size="10.5" stroke-width="0.25">
<text x="31.2" y="249.0" text-anchor="end">0</text>
<text x="33" y="206.0" text-anchor="end">10</text>
<text x="33" y="163.0" text-anchor="end">20</text>
<text x="33" y="119.9" text-anchor="end">30</text>
<text x="33" y="76.9" text-anchor="end">40</text>
<text x="33" y="33.9" text-anchor="end">50</text>
<text x="34.4" y="257.0" text-anchor="middle">0</text>
<text x="77.5" y="257.0" text-anchor="middle">2</text>
<text x="120.6" y="257.0" text-anchor="middle">4</text>
<text x="163.8" y="257.0" text-anchor="middle">6</text>
<text x="206.9" y="257.0" text-anchor="middle">8</text>
<text x="251.4" y="257.0" text-anchor="middle">10</text>
<text x="299.3" y="249.0" text-anchor="end">0.0</text>
<text x="299.3" y="206.0" text-anchor="end">0.2</text>
<text x="299.3" y="163.0" text-anchor="end">0.4</text>
<text x="299.3" y="119.9" text-anchor="end">0.6</text>
<text x="299.3" y="76.9" text-anchor="end">0.8</text>
<text x="299.3" y="33.9" text-anchor="end">1.0</text>
<text x="340.0" y="257.0" text-anchor="middle">0.01</text>
<text x="394.0" y="257.0" text-anchor="middle">0.1</text>
<text x="447.9" y="257.0" text-anchor="middle">1</text>
<text x="501.9" y="257.0" text-anchor="middle">10</text>
</g>
<g font-size="13.3" stroke-width="0.35" text-anchor="middle">
<text x="143" y="276.7" textLength="68.3" lengthAdjust="spacingAndGlyphs">[CMP] (mM)</text>
<text x="409.7" y="276.7" textLength="68.3" lengthAdjust="spacingAndGlyphs">[CMP] (mM)</text>
<text transform="translate(11.4,132.5) rotate(-90)" font-size="13.5">v(U/mg)</text>
<text transform="translate(276.4,138) rotate(-90)" font-size="14">v/V<tspan font-size="8.5" dy="3">max</tspan></text>
</g>
</g>
</svg>
</body></html>
